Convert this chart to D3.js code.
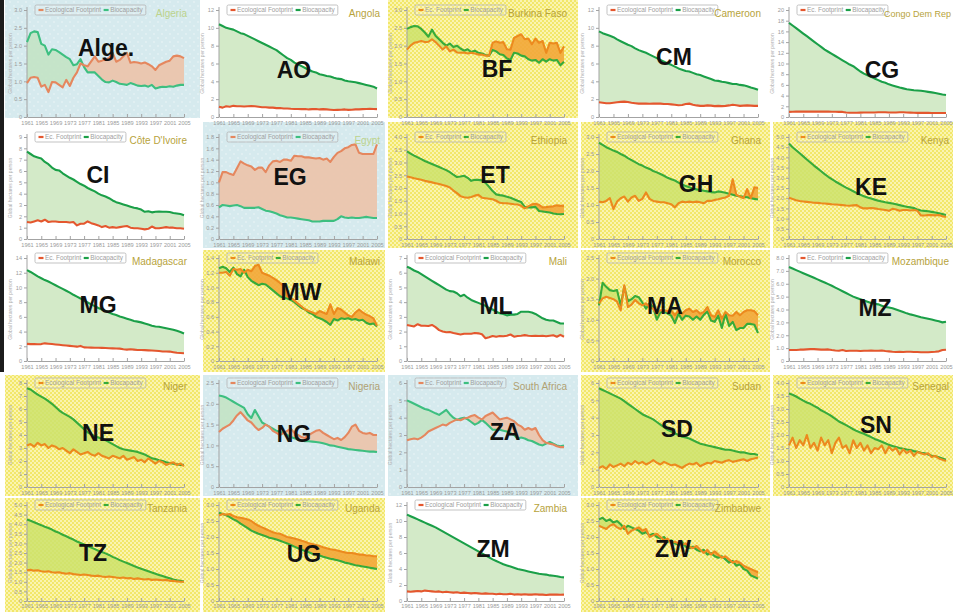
<!DOCTYPE html>
<html>
<head>
<meta charset="utf-8">
<script src="https://cdn.jsdelivr.net/npm/d3@7"></script>
<style>
  body { margin: 0; background: #fff; }
  svg { display: block; }
  text { font-family: "Liberation Sans", Arial, sans-serif; }
</style>
</head>
<body>
<svg id="chart" width="953" height="612"></svg>
<script>
// ---- categories ----
const years = [1961,1962,1963,1964,1965,1966,1967,1968,1969,1970,
  1971,1972,1973,1974,1975,1976,1977,1978,1979,1980,
  1981,1982,1983,1984,1985,1986,1987,1988,1989,1990,
  1991,1992,1993,1994,1995,1996,1997,1998,1999,2000,
  2001,2002,2003,2004,2005];
const tickYears = [1961,1965,1969,1973,1977,1981,1985,1989,1993,1997,2001,2005];
const countryNames = ["Algeria","Angola","Burkina Faso","Cameroon","Congo Dem Rep",
  "Côte D'Ivoire","Egypt","Ethiopia","Ghana","Kenya",
  "Madagascar","Malawi","Mali","Morocco","Mozambique",
  "Niger","Nigeria","South Africa","Sudan","Senegal",
  "Tanzania","Uganda","Zambia","Zimbabwe"];
const countryCodes = ["Alge.","AO","BF","CM","CG","CI","EG","ET","GH","KE",
  "MG","MW","ML","MA","MZ","NE","NG","ZA","SD","SN","TZ","UG","ZM","ZW"];
const legendFootprint = ["Ecological Footprint","Ecological Footprint","Ec. Footprint","Ecological Footprint","Ec. Footprint",
  "Ec. Footprint","Ecological Footprint","Ec. Footprint","Ecological Footprint","Ecological Footprint",
  "Ec. Footprint","Ec. Footprint","Ecological Footprint","Ecological Footprint","Ec. Footprint",
  "Ecological Footprint","Ecological Footprint","Ec. Footprint","Ecological Footprint","Ecological Footprint",
  "Ecological Footprint","Ecological Footprint","Ecological Footprint","Ecological Footprint"];
const legendBiocapacity = "Biocapacity";
const axisTitle = "Global hectares per person";
// y-axis maximum and tick step (global hectares per person)
const axisMax  = [3.0,12,3.0,12,20, 9,1.8,4.0,3.0,5.0, 14,1.4,7,2.5,8, 8,2.5,6,6,4, 5,3.0,12,3.0];
const axisStep = [0.5,2,0.5,2,2, 1,0.2,0.5,0.5,0.5, 2,0.2,1,0.5,1, 1,0.5,1,1,0.5, 0.5,0.5,2,0.5];

// ---- series: Ecological Footprint (EF) and Biocapacity (BC) ----
const algeriaEF = [0.95,1.10,1.12,1.10,0.85,0.90,0.70,0.98,0.97,0.90,0.83,1.04,0.87,1.10,1.25,1.50,1.45,1.42,1.56,1.70,1.55,1.58,1.62,1.65,1.80,1.55,1.60,1.70,1.80,1.52,1.54,1.53,1.50,1.53,1.48,1.42,1.32,1.45,1.50,1.55,1.58,1.70,1.72,1.70,1.65];
const algeriaBC = [2.10,2.35,2.40,2.38,2.05,2.00,1.75,1.90,1.88,1.82,1.75,1.68,1.62,1.45,1.48,1.62,1.40,1.25,1.25,1.25,1.15,1.05,0.98,0.97,1.02,0.98,0.93,0.92,0.90,0.95,0.92,0.88,0.87,0.88,0.85,0.90,0.80,0.83,0.85,0.84,0.86,0.85,0.88,0.90,0.90];
const angolaEF = [1.15,1.05,1.20,1.15,1.25,1.20,1.20,1.18,1.20,1.22,1.20,1.15,1.10,1.10,1.05,1.05,1.00,1.00,0.95,0.95,0.92,0.90,0.90,0.88,0.90,0.85,0.88,0.90,0.85,0.88,0.85,0.82,0.78,0.80,0.82,0.85,0.80,0.82,0.85,0.85,0.88,0.90,0.92,0.90,0.88];
const angolaBC = [10.4,10.2,10.0,9.9,9.8,9.6,9.4,9.3,9.1,8.9,8.7,8.5,8.3,8.1,7.9,7.7,7.5,7.2,6.9,6.6,6.4,6.1,5.9,5.7,5.5,5.3,5.1,5.0,4.8,4.7,4.6,4.55,4.4,4.3,4.25,4.1,4.0,3.95,3.9,3.8,3.7,3.6,3.5,3.4,3.2];
const burkinaEF = [1.89,2.00,2.08,2.10,2.13,2.10,2.11,2.18,2.10,2.00,1.89,1.98,1.84,1.89,1.81,1.80,1.81,1.78,1.80,1.78,1.75,1.75,1.72,1.72,2.08,2.12,2.08,2.10,1.90,1.89,2.22,2.27,2.32,2.18,2.20,2.04,2.20,2.08,2.13,1.80,2.08,2.06,2.08,1.80,1.98];
const burkinaBC = [2.47,2.52,2.55,2.54,2.47,2.37,2.25,2.45,2.28,2.18,2.08,2.00,2.06,1.96,2.00,1.92,1.86,1.90,1.82,1.86,1.80,1.78,1.74,1.72,1.88,1.84,1.76,1.74,1.64,1.60,1.80,1.78,1.72,1.70,1.62,1.58,1.60,1.52,1.62,1.55,1.62,1.58,1.60,1.45,1.55];
const cameroonEF = [1.65,1.60,1.55,1.55,1.60,1.65,1.70,1.72,1.68,1.60,1.55,1.50,1.50,1.50,1.48,1.50,1.52,1.50,1.45,1.45,1.42,1.38,1.32,1.35,1.45,1.50,1.38,1.30,1.25,1.25,1.30,1.28,1.22,1.25,1.22,1.25,1.30,1.38,1.32,1.25,1.28,1.30,1.28,1.25,1.25];
const cameroonBC = [9.6,9.4,9.25,9.1,8.95,8.7,8.5,8.3,8.1,7.95,7.7,7.5,7.35,7.2,7.0,6.8,6.6,6.4,6.2,6.0,5.85,5.65,5.45,5.3,5.15,5.1,4.95,4.8,4.7,4.55,4.4,4.25,4.1,4.05,3.95,3.9,3.8,3.7,3.7,3.6,3.55,3.45,3.3,3.2,3.05];
const congoEF = [0.95,0.98,1.00,1.00,1.00,1.00,1.00,1.00,1.00,1.00,1.00,1.00,0.98,0.98,0.95,0.95,0.85,0.80,0.80,0.80,0.82,0.85,0.85,0.85,0.85,0.88,0.88,0.90,0.85,0.85,0.85,0.88,0.88,0.85,0.82,0.80,0.78,0.78,0.78,0.78,0.75,0.75,0.75,0.75,0.75];
const congoBC = [17.6,17.1,16.6,16.1,15.6,15.1,14.6,14.1,13.6,13.1,12.6,12.2,11.8,11.4,11.0,10.6,10.2,9.8,9.5,9.0,8.5,8.1,7.8,7.5,7.2,6.9,6.6,6.4,6.1,5.9,5.7,5.5,5.35,5.2,5.1,5.0,4.95,4.9,4.8,4.7,4.6,4.5,4.35,4.2,4.1];
const ivoryEF = [1.5,1.45,1.55,1.65,1.55,1.7,1.5,1.55,1.55,1.5,1.5,1.5,1.45,1.5,1.2,1.35,1.35,1.55,1.4,1.3,1.2,1.05,1.15,1.0,1.05,1.0,1.05,1.1,1.15,1.0,0.95,0.95,0.9,0.85,0.9,1.1,0.95,0.95,1.0,1.05,1.0,1.0,0.95,0.95,0.9];
const ivoryBC = [7.7,7.5,7.3,7.2,7.1,6.8,6.6,6.3,6.1,6.05,5.8,5.6,5.4,5.25,5.05,4.85,4.7,4.5,4.35,4.2,4.0,3.85,3.75,3.6,3.4,3.25,3.15,3.05,2.95,2.85,2.75,2.7,2.6,2.4,2.45,2.35,2.4,2.42,2.4,2.4,2.38,2.3,2.25,2.2,2.1];
const egyptEF = [1.00,1.18,1.18,1.15,1.13,1.25,1.37,1.33,1.30,1.28,1.22,1.26,1.26,1.18,1.30,1.37,1.38,1.36,1.40,1.40,1.38,1.47,1.46,1.46,1.44,1.44,1.43,1.42,1.43,1.40,1.42,1.36,1.45,1.52,1.55,1.60,1.62,1.66,1.67,1.52,1.50,1.50,1.50,1.50,1.67];
const egyptBC = [0.56,0.60,0.59,0.58,0.59,0.60,0.58,0.55,0.55,0.55,0.55,0.56,0.53,0.50,0.49,0.47,0.45,0.42,0.40,0.38,0.38,0.37,0.36,0.35,0.34,0.33,0.31,0.31,0.31,0.32,0.32,0.32,0.32,0.35,0.40,0.38,0.37,0.38,0.37,0.37,0.38,0.39,0.38,0.37,0.37];
const ethiopiaEF = [2.45,2.42,2.38,2.35,2.32,2.28,2.25,2.22,2.19,2.16,2.12,2.08,2.02,1.90,1.80,1.68,1.64,1.62,1.65,1.70,1.73,1.62,1.60,1.58,1.56,1.50,1.42,1.40,1.40,1.38,1.36,1.35,1.30,1.20,1.28,1.36,1.38,1.34,1.24,1.25,1.27,1.28,1.32,1.30,1.31];
const ethiopiaBC = [3.44,3.35,3.27,3.20,3.13,3.06,3.00,2.94,2.88,2.82,2.76,2.70,2.62,2.52,2.43,2.45,2.48,2.40,2.28,2.32,2.32,2.30,2.20,2.05,1.88,1.75,1.72,1.70,1.66,1.62,1.56,1.50,1.45,1.26,1.24,1.24,1.26,1.10,1.08,1.06,1.04,1.00,0.98,0.97,0.98];
const ghanaEF = [1.10,1.08,1.12,1.20,0.88,1.10,1.20,1.25,1.10,1.22,1.27,1.12,1.18,1.37,1.18,1.12,1.10,1.08,1.08,1.05,1.02,0.93,1.05,1.10,1.08,1.10,1.08,1.10,1.08,1.05,1.12,1.12,1.15,1.17,1.20,1.22,1.27,1.76,1.30,1.25,1.20,1.47,1.20,1.52,1.50];
const ghanaBC = [2.83,2.77,2.70,2.65,2.60,2.56,2.50,2.45,2.38,2.32,2.26,2.20,2.16,2.10,2.06,2.00,1.96,1.91,1.86,1.80,1.76,1.72,1.66,1.60,1.56,1.52,1.48,1.46,1.44,1.42,1.40,1.38,1.37,1.40,1.38,1.36,1.33,1.30,1.27,1.26,1.24,1.23,1.20,1.18,1.16];
const kenyaEF = [2.02,1.96,1.90,1.86,1.84,1.82,1.80,1.78,1.77,1.75,1.74,1.72,1.70,1.69,1.68,1.66,1.64,1.63,1.65,1.66,1.55,1.50,1.50,1.52,1.50,1.47,1.45,1.42,1.38,1.48,1.45,1.38,1.42,1.42,1.40,1.42,1.38,1.15,1.15,1.18,1.17,1.16,1.18,1.12,1.08];
const kenyaBC = [4.68,4.50,4.35,4.20,4.05,3.90,3.75,3.60,3.46,3.32,3.18,3.05,2.93,2.82,2.72,2.62,2.52,2.43,2.34,2.25,2.17,2.10,2.03,1.98,1.93,1.88,1.84,1.80,1.77,1.74,1.70,1.66,1.62,1.58,1.55,1.52,1.44,1.40,1.38,1.36,1.33,1.30,1.26,1.22,1.18];
const madagascarEF = [2.33,2.30,2.30,2.28,2.30,2.40,2.35,2.30,2.25,2.20,2.15,2.10,2.05,2.00,1.95,2.05,1.85,1.83,1.82,1.80,1.80,1.78,1.76,1.74,1.72,1.70,1.68,1.60,1.55,1.60,1.55,1.50,1.50,1.48,1.45,1.42,1.40,1.35,1.30,1.30,1.28,1.20,1.12,1.08,1.05];
const madagascarBC = [12.35,12.1,11.8,11.5,11.25,11.0,10.8,10.55,10.3,10.05,9.8,9.55,9.3,9.0,8.75,8.5,8.2,7.95,7.7,7.45,7.2,7.0,6.8,6.6,6.4,6.25,6.05,5.9,5.75,5.6,5.45,5.35,5.25,5.1,4.95,4.8,4.7,4.65,4.55,4.45,4.35,4.25,4.1,3.95,3.75];
const malawiEF = [1.20,1.20,1.21,1.16,1.25,1.24,1.25,1.20,1.24,1.22,1.29,1.31,1.20,1.18,1.16,1.13,1.10,1.06,1.02,0.88,0.86,0.82,0.78,0.74,0.70,0.68,0.66,0.64,0.68,0.66,0.64,0.77,0.64,0.72,0.70,0.66,0.62,0.60,0.66,0.70,0.66,0.63,0.61,0.58,0.48];
const malawiBC = [1.26,1.28,1.26,1.21,1.27,1.18,1.15,1.24,1.14,1.09,1.06,1.03,1.05,1.04,1.00,0.96,0.92,0.88,0.86,0.85,0.83,0.80,0.76,0.72,0.70,0.66,0.64,0.60,0.58,0.56,0.53,0.49,0.57,0.55,0.58,0.57,0.58,0.56,0.57,0.55,0.56,0.52,0.50,0.51,0.47];
const maliEF = [2.45,2.40,2.35,2.50,2.40,2.40,2.38,2.45,2.30,2.10,2.00,1.95,1.97,1.90,1.85,1.80,1.85,1.85,1.85,1.90,1.88,1.82,1.55,1.62,1.70,1.65,1.70,1.68,1.72,1.80,1.65,1.70,1.72,1.76,1.72,1.70,1.72,1.70,1.72,1.68,1.72,1.75,1.65,1.78,1.65];
const maliBC = [6.40,6.30,6.15,6.05,5.90,5.75,5.60,5.45,5.30,5.15,5.00,4.85,4.75,4.72,4.60,4.40,4.50,4.30,4.15,4.05,3.95,3.85,3.75,3.60,3.50,3.35,3.25,3.20,3.10,3.15,3.15,3.20,3.35,3.35,3.35,3.30,3.20,3.05,2.90,2.80,2.75,2.75,2.65,2.55,2.55];
const moroccoEF = [1.40,1.52,1.56,1.53,1.50,1.44,1.23,1.84,1.31,1.37,1.48,1.40,1.35,1.40,1.31,1.27,1.15,1.23,1.23,1.21,1.23,1.11,1.23,1.15,1.23,1.27,1.19,1.23,1.15,1.19,1.31,1.11,1.07,1.23,1.03,1.19,1.11,1.10,1.19,1.11,1.19,1.23,1.23,1.21,1.11];
const moroccoBC = [1.35,1.90,1.80,1.72,1.70,1.72,1.35,1.80,1.45,1.50,1.58,1.55,1.42,1.27,1.40,1.30,1.00,1.18,1.20,1.15,1.10,0.92,1.15,1.00,1.10,1.08,1.00,1.08,1.00,1.12,1.20,0.98,0.95,1.10,0.80,1.15,0.85,0.95,0.75,0.80,0.80,0.90,0.90,0.88,0.68];
const mozambiqueEF = [0.85,0.85,0.85,0.88,0.88,0.90,0.92,0.92,0.90,0.88,0.88,0.90,0.85,0.82,0.80,0.85,0.78,0.80,0.80,0.80,0.78,0.80,0.80,0.82,0.80,0.80,0.82,0.78,0.75,0.72,0.70,0.72,0.70,0.72,0.72,0.70,0.70,0.68,0.68,0.68,0.70,0.72,0.75,0.85,0.88];
const mozambiqueBC = [7.30,7.18,7.06,6.94,6.82,6.70,6.58,6.46,6.34,6.22,6.10,5.97,5.84,5.70,5.56,5.42,5.28,5.14,5.00,4.90,4.80,4.70,4.60,4.50,4.45,4.40,4.30,4.20,4.15,4.10,4.00,3.90,3.80,3.70,3.62,3.55,3.48,3.40,3.34,3.28,3.22,3.15,3.08,3.00,3.05];
const nigerEF = [3.2,3.3,3.1,3.4,3.2,3.3,3.0,3.2,3.1,2.9,3.0,2.8,2.6,2.9,2.7,2.5,2.6,2.7,2.5,2.4,2.6,2.4,2.3,2.2,2.4,2.3,2.2,2.4,2.1,2.2,2.3,2.0,2.1,1.9,2.2,2.0,1.8,2.0,1.9,1.7,1.8,1.9,1.7,1.8,1.6];
const nigerBC = [7.6,7.5,7.3,7.1,6.95,6.8,6.6,6.4,6.15,5.9,5.7,5.55,5.4,5.2,4.95,4.7,4.45,4.2,4.05,3.9,3.8,3.7,3.6,3.45,3.3,3.15,3.0,2.9,2.85,2.8,2.75,2.7,2.6,2.5,2.35,2.2,2.15,2.05,2.0,1.9,1.85,1.8,1.75,1.7,1.7];
const nigeriaEF = [1.32,1.40,1.45,1.50,1.60,1.72,1.80,1.70,1.60,1.55,1.45,1.37,1.42,1.50,1.45,1.35,1.30,1.25,1.30,1.35,1.40,1.30,1.25,1.20,1.18,1.25,1.30,1.35,1.37,1.30,1.25,1.20,1.15,1.18,1.13,1.20,1.30,1.45,1.50,1.35,1.30,1.28,1.30,1.25,1.25];
const nigeriaBC = [2.20,2.18,2.15,2.10,2.05,2.00,1.95,1.90,1.75,1.66,1.85,1.70,1.55,1.50,1.45,1.40,1.35,1.32,1.30,1.25,1.20,1.17,1.14,1.12,1.10,1.10,1.09,1.08,1.07,1.05,1.03,1.00,0.99,0.97,0.95,0.93,0.91,0.90,0.89,0.88,0.87,0.86,0.85,0.85,0.84];
const southAfricaEF = [2.7,2.75,2.8,2.75,2.85,3.0,3.2,3.3,3.4,3.5,3.6,3.55,3.7,3.8,3.9,3.85,3.95,4.0,4.1,4.15,4.0,3.9,4.1,4.2,4.3,4.1,3.9,3.95,4.0,3.9,3.8,3.6,3.5,3.3,3.4,3.3,3.4,3.0,2.7,2.55,2.5,2.45,2.35,2.3,2.3];
const southAfricaBC = [5.0,4.9,4.8,4.7,4.6,4.5,4.45,4.35,4.25,4.16,4.3,4.45,4.2,4.0,3.87,3.95,4.0,3.9,3.75,3.6,3.7,3.87,3.7,3.5,3.3,3.3,3.3,3.25,3.2,3.1,3.0,2.8,2.85,2.8,2.7,2.65,2.55,2.45,2.4,2.5,2.6,2.5,2.4,2.35,2.4];
const sudanEF = [1.1,1.2,1.05,1.3,1.15,1.25,1.35,1.2,1.4,1.3,1.5,1.35,1.45,1.3,1.4,1.55,1.4,1.3,1.45,1.35,1.25,1.3,1.2,1.1,1.25,1.35,1.3,1.4,1.2,1.3,1.4,1.35,1.5,1.45,1.4,1.5,1.55,1.45,1.5,1.55,1.6,1.5,1.6,1.65,1.7];
const sudanBC = [5.7,5.6,5.5,5.4,5.3,5.2,5.1,4.95,4.8,4.65,4.5,4.35,4.2,4.1,4.0,3.9,3.75,3.6,3.45,3.3,3.2,3.1,3.0,2.9,2.85,2.8,2.7,2.6,2.5,2.45,2.4,2.35,2.3,2.25,2.2,2.15,2.15,2.1,2.05,2.0,2.0,1.95,1.9,1.9,1.85];
const senegalEF = [1.6,1.9,1.5,1.8,1.6,2.0,1.5,1.7,1.4,1.9,1.6,1.8,1.3,1.7,1.9,1.5,1.6,1.3,1.8,1.5,1.7,1.4,1.6,1.3,1.5,1.45,1.6,1.3,1.55,1.4,1.5,1.25,1.45,1.3,1.4,1.2,1.35,1.3,1.25,1.3,1.15,1.2,1.1,1.05,1.0];
const senegalBC = [3.60,3.55,3.48,3.40,3.32,3.25,3.20,3.12,3.05,2.95,2.88,2.80,2.72,2.62,2.52,2.45,2.38,2.30,2.22,2.15,2.10,2.05,1.98,1.92,1.85,1.80,1.74,1.68,1.62,1.58,1.54,1.50,1.47,1.44,1.42,1.38,1.35,1.32,1.30,1.25,1.20,1.18,1.14,1.10,1.05];
const tanzaniaEF = [1.60,1.62,1.58,1.60,1.55,1.52,1.55,1.50,1.48,1.50,1.45,1.42,1.45,1.40,1.38,1.35,1.38,1.35,1.32,1.30,1.32,1.28,1.25,1.28,1.25,1.22,1.20,1.22,1.18,1.20,1.15,1.18,1.15,1.12,1.15,1.10,1.12,1.10,1.08,1.10,1.05,1.05,1.02,1.00,1.00];
const tanzaniaBC = [4.25,4.18,4.10,4.02,3.95,3.87,3.80,3.72,3.62,3.55,3.45,3.37,3.28,3.20,3.10,3.02,2.95,2.86,2.78,2.70,2.62,2.55,2.48,2.40,2.30,2.22,2.13,2.05,1.98,1.90,1.82,1.75,1.68,1.62,1.55,1.48,1.42,1.36,1.30,1.24,1.18,1.12,1.08,1.05,1.02];
const ugandaEF = [2.67,2.72,2.70,2.72,2.66,2.62,2.60,2.58,2.55,2.50,2.42,2.35,2.30,2.25,2.20,2.15,2.12,2.10,2.05,2.00,1.98,1.95,1.92,1.88,1.85,1.80,1.78,1.75,1.72,1.68,1.65,1.62,1.60,1.58,1.55,1.52,1.50,1.50,1.48,1.45,1.45,1.42,1.42,1.40,1.40];
const ugandaBC = [2.76,2.72,2.68,2.62,2.55,2.50,2.42,2.35,2.28,2.20,2.15,2.10,2.06,2.02,1.98,1.95,1.92,1.88,1.84,1.80,1.75,1.70,1.65,1.60,1.56,1.52,1.48,1.45,1.42,1.38,1.35,1.32,1.30,1.27,1.24,1.20,1.18,1.15,1.12,1.10,1.08,1.06,1.04,1.02,1.00];
const zambiaEF = [1.2,1.15,1.2,1.25,1.2,1.3,1.25,1.2,1.15,1.2,1.1,1.15,1.1,1.05,1.1,1.0,1.05,1.0,0.95,1.0,0.95,0.9,0.95,0.9,0.9,0.85,0.9,0.85,0.85,0.9,0.8,0.85,0.8,0.85,0.8,0.8,0.85,0.8,0.8,0.75,0.8,0.8,0.8,0.78,0.8];
const zambiaBC = [10.8,10.6,10.4,10.2,10.0,9.8,9.6,9.4,9.2,8.95,8.7,8.45,8.2,7.95,7.7,7.45,7.2,6.95,6.7,6.45,6.2,5.95,5.7,5.45,5.2,5.0,4.8,4.6,4.45,4.3,4.15,4.0,3.9,3.8,3.7,3.6,3.5,3.4,3.35,3.3,3.2,3.15,3.1,3.0,2.95];
const zimbabweEF = [2.35,2.30,2.25,2.35,2.40,2.30,2.25,2.35,2.10,2.20,2.25,2.30,2.20,2.25,2.00,2.05,2.10,2.00,1.90,1.95,1.80,1.85,1.80,1.75,1.80,1.70,1.65,1.72,1.60,1.50,1.60,1.45,1.55,1.45,1.35,1.40,1.30,1.20,1.25,1.20,1.10,1.05,1.00,0.95,0.90];
const zimbabweBC = [2.55,2.60,2.50,2.55,2.45,2.50,2.40,2.25,2.35,2.30,2.25,2.20,2.10,2.15,2.05,2.10,2.00,1.95,2.00,1.85,1.90,1.80,1.75,1.85,1.70,1.65,1.70,1.60,1.55,1.60,1.45,1.50,1.40,1.35,1.40,1.30,1.20,1.25,1.10,1.15,1.00,0.95,0.80,0.75,0.70];

const footprintSeries = [algeriaEF,angolaEF,burkinaEF,cameroonEF,congoEF,ivoryEF,egyptEF,ethiopiaEF,ghanaEF,kenyaEF,
  madagascarEF,malawiEF,maliEF,moroccoEF,mozambiqueEF,nigerEF,nigeriaEF,southAfricaEF,sudanEF,senegalEF,
  tanzaniaEF,ugandaEF,zambiaEF,zimbabweEF];
const biocapacitySeries = [algeriaBC,angolaBC,burkinaBC,cameroonBC,congoBC,ivoryBC,egyptBC,ethiopiaBC,ghanaBC,kenyaBC,
  madagascarBC,malawiBC,maliBC,moroccoBC,mozambiqueBC,nigerBC,nigeriaBC,southAfricaBC,sudanBC,senegalBC,
  tanzaniaBC,ugandaBC,zambiaBC,zimbabweBC];

// ---- layout ----
const COL_X0 = [27, 219, 407, 599, 789];
const COL_X1 = [184, 377, 564, 758, 946];
const ROW_TOP = [10, 137, 258, 383, 505];
const ROW_BOT = [117, 239, 361, 487, 601];
const COL_BG = [[5, 200], [203, 385], [388, 578], [581, 770], [773, 953]];
const ROW_BG = [[0, 118], [122, 248], [250, 372], [375, 496], [498, 612]];
const panelTheme = ["blue","white","yellow","white","white",
  "white","blue","yellow","yellow","yellow",
  "white","yellow","white","yellow","white",
  "yellow","blue","blue","yellow","yellow",
  "yellow","yellow","white","yellow"];
// big code label centre x and baseline y
const codePos = [[106,56],[294,78],[497,77],[674,65],[882,78],
  [98,183],[290,185],[495,183],[696,192],[871,195],
  [98,313],[301,300],[496,314],[665,314],[875,316],
  [98,441],[294,442],[505,440],[677,437],[876,433],
  [93,561],[304,562],[493,557],[673,557]];

const THEMES = {
  white:  { bg: null,              ef: "#e4572e", bc: "#1a9f48", green: "#d3eac8", greenOp: 1,    orange: "#f0c0a0", orangeOp: 1,   title: "#b7a33c" },
  blue:   { bg: "url(#dotsBlue)",  ef: "#e5875e", bc: "#3dbf80", green: "#c3e3c4", greenOp: 0.9,  orange: "#ecc3aa", orangeOp: 0.92, title: "#bcd38c" },
  yellow: { bg: "url(#hatchYel)",  ef: "#ec8a1e", bc: "#37ab3a", green: "#cde26c", greenOp: 0.85, orange: "#f2a73a", orangeOp: 0.9, title: "#b7a33c" }
};
const titleOverride = { 16: "#b0a172", 17: "#b0a172" };

const svg = d3.select("#chart");
const defs = svg.append("defs");

// yellow cross-hatch texture
const hy = defs.append("pattern").attr("id", "hatchYel").attr("patternUnits", "userSpaceOnUse")
  .attr("width", 4).attr("height", 4);
hy.append("rect").attr("width", 4).attr("height", 4).attr("fill", "#f2e76a");
hy.append("rect").attr("width", 2).attr("height", 2).attr("fill", "#faf4b0");
hy.append("rect").attr("x", 2).attr("y", 2).attr("width", 2).attr("height", 2).attr("fill", "#faf4b0");

// pale blue dotted texture
const hb = defs.append("pattern").attr("id", "dotsBlue").attr("patternUnits", "userSpaceOnUse")
  .attr("width", 8).attr("height", 8);
hb.append("rect").attr("width", 8).attr("height", 8).attr("fill", "#d6eaee");
hb.append("circle").attr("cx", 2).attr("cy", 2).attr("r", 0.7).attr("fill", "#f4fafb");
hb.append("circle").attr("cx", 6).attr("cy", 6).attr("r", 0.7).attr("fill", "#f4fafb");

// dark strip along left edge
svg.append("rect").attr("x", 0).attr("y", 0).attr("width", 4).attr("height", 372).attr("fill", "#1c1c1c");

// panel backgrounds first
countryNames.forEach((name, i) => {
  const th = THEMES[panelTheme[i]];
  if (!th.bg) return;
  const col = i % 5, row = Math.floor(i / 5);
  svg.append("rect")
    .attr("x", COL_BG[col][0]).attr("y", ROW_BG[row][0])
    .attr("width", COL_BG[col][1] - COL_BG[col][0])
    .attr("height", ROW_BG[row][1] - ROW_BG[row][0])
    .attr("fill", th.bg);
});

const axisColor = "#a3a3a3";

countryNames.forEach((name, i) => {
  const col = i % 5, row = Math.floor(i / 5);
  const x0 = COL_X0[col], x1 = COL_X1[col], yT = ROW_TOP[row], yB = ROW_BOT[row];
  const th = THEMES[panelTheme[i]];
  const ef = footprintSeries[i], bc = biocapacitySeries[i];
  const max = axisMax[i], step = axisStep[i];

  const x = d3.scaleLinear().domain([years[0], years[years.length - 1]]).range([x0, x1]);
  const y = d3.scaleLinear().domain([0, max]).range([yB, yT]);
  const g = svg.append("g").attr("class", "panel");

  const skyline = yT - 30;
  const aboveLine = d3.area().x((d, k) => x(years[k])).y0(skyline).y1(d => y(d));
  const belowLine = d3.area().x((d, k) => x(years[k])).y0(yB).y1(d => y(d));
  const line = d3.line().x((d, k) => x(years[k])).y(d => y(d));

  defs.append("clipPath").attr("id", "aboveEF" + i).append("path").attr("d", aboveLine(ef));
  defs.append("clipPath").attr("id", "aboveBC" + i).append("path").attr("d", aboveLine(bc));

  // biocapacity reserve (BC above EF)
  g.append("path").attr("d", belowLine(bc))
    .attr("fill", th.green).attr("fill-opacity", th.greenOp)
    .attr("clip-path", `url(#aboveEF${i})`);
  // ecological deficit (EF above BC)
  g.append("path").attr("d", belowLine(ef))
    .attr("fill", th.orange).attr("fill-opacity", th.orangeOp)
    .attr("clip-path", `url(#aboveBC${i})`);

  // axes
  const tickVals = d3.range(0, max + step / 2, step);
  const fmt = v => v === 0 ? "0" : (step < 1 || i === 14 ? d3.format(".1f")(v) : d3.format("d")(v));
  const ya = g.append("g").attr("transform", `translate(${x0},0)`)
    .call(d3.axisLeft(y).tickValues(tickVals).tickFormat(fmt).tickSize(3).tickSizeOuter(0).tickPadding(2));
  const xa = g.append("g").attr("transform", `translate(0,${yB})`)
    .call(d3.axisBottom(x).tickValues(tickYears).tickFormat(d3.format("d")).tickSize(-3).tickSizeOuter(0)
      .tickPadding(row === 4 ? 3 : 4));
  [ya, xa].forEach(a => {
    a.attr("font-family", null).attr("font-size", null);
    a.select(".domain").attr("stroke", axisColor).attr("stroke-width", 1);
    a.selectAll(".tick line").attr("stroke", axisColor);
    a.selectAll(".tick text").attr("fill", "#9a9a9a").style("font-size", "5.6px");
  });
  ya.select(".domain").attr("d", `M0,${yB}V${yT - 3}`);

  g.append("text")
    .attr("transform", `translate(${x0 - 15},${(yT + yB) / 2}) rotate(-90)`)
    .attr("text-anchor", "middle").attr("fill", "#b0b0b0").style("font-size", "5px")
    .text(axisTitle);

  // series lines
  g.append("path").attr("d", line(bc)).attr("fill", "none")
    .attr("stroke", th.bc).attr("stroke-width", 2.1).attr("stroke-linejoin", "round");
  g.append("path").attr("d", line(ef)).attr("fill", "none")
    .attr("stroke", th.ef).attr("stroke-width", 2.1).attr("stroke-linejoin", "round");

  // legend
  const lg = g.append("g").attr("transform", `translate(${x0 + 8},${yT - 5})`);
  const box = lg.append("rect").attr("height", 10).attr("rx", 1.5)
    .attr("fill", "#ffffff").attr("fill-opacity", panelTheme[i] === "white" ? 1 : 0.15)
    .attr("stroke", "#b4b4b4").attr("stroke-width", 0.8);
  lg.append("line").attr("x1", 3.5).attr("x2", 8.5).attr("y1", 5).attr("y2", 5)
    .attr("stroke", th.ef).attr("stroke-width", 2.2);
  const t1 = lg.append("text").attr("x", 10).attr("y", 7.3).attr("fill", "#a0a0a0")
    .style("font-size", "6.4px").text(legendFootprint[i]);
  const w1 = t1.node().getComputedTextLength();
  const bx = 10 + w1 + 2.5;
  lg.append("line").attr("x1", bx).attr("x2", bx + 5).attr("y1", 5).attr("y2", 5)
    .attr("stroke", th.bc).attr("stroke-width", 2.2);
  const t2 = lg.append("text").attr("x", bx + 6.5).attr("y", 7.3).attr("fill", "#a0a0a0")
    .style("font-size", "6.4px").text(legendBiocapacity);
  box.attr("width", bx + 6.5 + t2.node().getComputedTextLength() + 3);

  // country name
  const title = g.append("text").attr("y", yT + 6.5)
    .attr("fill", titleOverride[i] || th.title).style("font-size", "10px");
  if (i === 4) title.attr("x", 951).attr("text-anchor", "end").style("font-size", "9px");
  else title.attr("x", x1 + 3).attr("text-anchor", "end");
  title.text(name);

  // big country code
  g.append("text").attr("x", codePos[i][0]).attr("y", codePos[i][1])
    .attr("text-anchor", "middle").attr("fill", "#111")
    .style("font-size", "23px").style("font-weight", "bold")
    .text(countryCodes[i]);
});
</script>
</body>
</html>
